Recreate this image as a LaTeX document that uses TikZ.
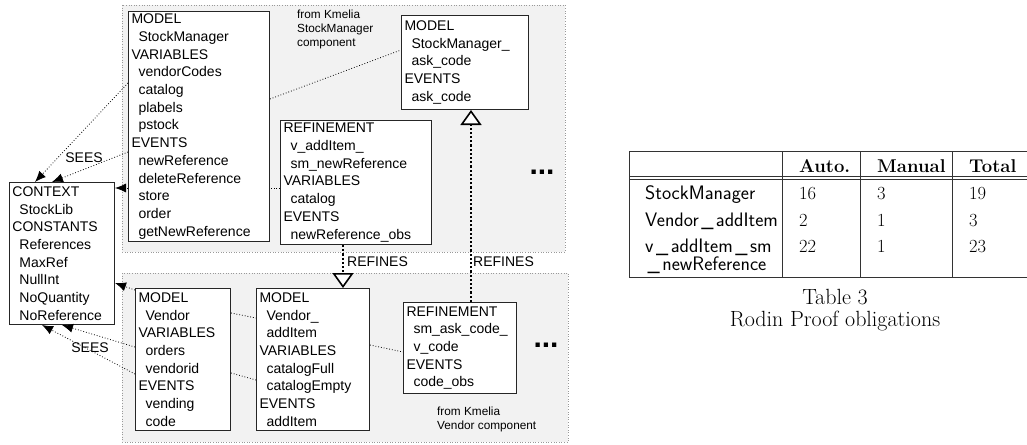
\documentclass[tikz,border=0pt]{standalone}
\usepackage{fontspec}
\newfontfamily\arial{Liberation Sans}
\usetikzlibrary{arrows.meta}

% indented entry inside a machine box
\newcommand{\ind}{\hspace*{7pt}}
% spaced underscore in the table
\newcommand{\us}{\hspace{2.5pt}\_\hspace{2.5pt}}

\tikzset{
  mbox/.style={draw=black!85, line width=1pt, fill=white, anchor=north west,
    align=left, inner xsep=3pt, inner ysep=1pt,
    font=\arial\fontsize{14}{17.7}\selectfont},
  area/.style={fill=black!5, draw=black!40, dotted, line width=0.6pt},
  link/.style={dotted, line width=0.8pt},
  sees/.style={link, -{Latex[length=11pt,width=9pt]}},
  refines/.style={line width=2.2pt, dash pattern=on 2.2pt off 2pt,
    -{Triangle[length=15pt,width=21pt,fill=white,line width=1.6pt]}},
  lbl/.style={font=\arial\fontsize{14}{17}\selectfont, inner sep=0pt},
  note/.style={font=\arial\fontsize{11.8}{14}\selectfont, inner sep=0pt,
    anchor=north west, align=left},
  more/.style={font=\arial\bfseries\fontsize{30}{30}\selectfont, inner sep=0pt},
  tline/.style={draw=black!80, line width=0.9pt},
  tcell/.style={font=\fontsize{18.5}{18}\selectfont, inner sep=0pt, anchor=base west},
  thead/.style={tcell, font=\bfseries\fontsize{18.5}{18}\selectfont},
  tname/.style={tcell, font=\sffamily\fontsize{19.5}{18}\selectfont},
}

\begin{document}
\begin{tikzpicture}[x=1pt, y=-1pt]
  \useasboundingbox (0,0) rectangle (1027,444);

  % component areas
  \draw[area] (122,5) rectangle (565,252);
  \draw[area] (122,273) rectangle (568,442);

  \node[note] (kmsm) at (297,10) {from Kmelia\\StockManager\\component};
  \node[note] (kmv) at (437,407) {from Kmelia\\Vendor component};

  % machines and contexts
  \node[mbox, text width=99pt, minimum height=142pt] (ctx) at (9,182)
    {CONTEXT\\\ind StockLib\\CONSTANTS\\\ind References\\\ind MaxRef\\\ind NullInt\\\ind NoQuantity\\\ind NoReference};
  \node[mbox, text width=135pt, minimum height=230pt] (smgr) at (128,11)
    {MODEL\\\ind StockManager\\VARIABLES\\\ind vendorCodes\\\ind catalog\\\ind plabels\\\ind pstock\\EVENTS\\\ind newReference\\\ind deleteReference\\\ind store\\\ind order\\\ind getNewReference};
  \node[mbox, text width=121pt, minimum height=94pt] (askc) at (401,15)
    {MODEL\\\ind StockManager\_\\\ind ask\_code\\EVENTS\\\ind ask\_code};
  \node[mbox, text width=145pt, minimum height=124pt] (vref) at (280,120)
    {REFINEMENT\\\ind v\_addItem\_\\\ind sm\_newReference\\VARIABLES\\\ind catalog\\EVENTS\\\ind newReference\_obs};
  \node[mbox, text width=89pt, minimum height=142pt] (vend) at (135,288)
    {MODEL\\\ind Vendor\\VARIABLES\\\ind orders\\\ind vendorid\\EVENTS\\\ind vending\\\ind code};
  \node[mbox, text width=107pt, minimum height=142pt] (vadd) at (256,288)
    {MODEL\\\ind Vendor\_\\\ind addItem\\VARIABLES\\\ind catalogFull\\\ind catalogEmpty\\EVENTS\\\ind addItem};
  \node[mbox, text width=107pt, minimum height=91pt] (sref) at (403,302)
    {REFINEMENT\\\ind sm\_ask\_code\_\\\ind v\_code\\EVENTS\\\ind code\_obs};

  \node[more] (dots1) at (542,172) {...};
  \node[more] (dots2) at (546,345) {...};

  % sees links
  \draw[sees] (smgr.west |- 0,83) -- (35,0 |- ctx.north);
  \draw[sees] (smgr.west |- 0,152) -- (52,0 |- ctx.north);
  \draw[link] (vref.west |- 0,188) -- (smgr.east |- 0,188);
  \draw[sees] (smgr.west |- 0,188) -- (ctx.east |- 0,188);
  \draw[sees] (vend.west |- 0,290) -- (ctx.east |- 0,283);
  \draw[sees] (vend.west |- 0,347) -- (62,0 |- ctx.south);
  \draw[sees] (vend.west |- 0,374) -- (42,0 |- ctx.south);
  \node[lbl] (sees1) at (84,158) {SEES};
  \node[lbl] (sees2) at (90,348) {SEES};

  % links inside the components
  \draw[link] (smgr.east |- 0,99) -- (askc.west |- 0,50);
  \draw[link] (vend.east |- 0,313) -- (vadd.west |- 0,318);
  \draw[link] (vend.east |- 0,373) -- (vadd.west |- 0,380);
  \draw[link] (vadd.east |- 0,345) -- (sref.west |- 0,352);

  % refinements
  \draw[refines] (343,0 |- vref.south) -- (343,0 |- vadd.north);
  \draw[refines] (471,0 |- sref.north) -- (471,0 |- askc.south);
  \node[lbl, anchor=west] (ref1) at (347,262) {REFINES};
  \node[lbl, anchor=west] (ref2) at (473,262) {REFINES};

  % proof obligations table
  \draw[tline] (629,151) -- (1027,151);
  \draw[tline] (629,176.5) -- (1027,176.5);
  \draw[tline] (629,179.5) -- (1027,179.5);
  \draw[tline] (629,277) -- (1027,277);
  \foreach \x in {629,782,860,952}
    \draw[tline] (\x,151) -- (\x,277);

  \node[thead] (hauto) at (799,172) {Auto.};
  \node[thead] (hman) at (877,172) {Manual};
  \node[thead] (htot) at (969,172) {Total};

  \node[tname] (msm) at (645,199) {StockManager};
  \node[tname] (mva) at (645,226) {Vendor\us addItem};
  \node[tname] (mvr) at (645,252) {v\us addItem\us sm};
  \node[tname] (mvr2) at (645,270) {\us newReference};

  \foreach \y/\a/\m/\t in {199/16/3/19, 226/2/1/3, 252/22/1/23} {
    \node[tcell] (a\y) at (799,\y) {\a};
    \node[tcell] (m\y) at (877,\y) {\m};
    \node[tcell] (t\y) at (969,\y) {\t};
  }

  \node[font=\fontsize{22}{24}\selectfont, inner sep=0pt] (cap1) at (835,297) {Table 3};
  \node[font=\fontsize{22}{24}\selectfont, inner sep=0pt] (cap2) at (835,321) {Rodin Proof obligations};
\end{tikzpicture}
\end{document}
